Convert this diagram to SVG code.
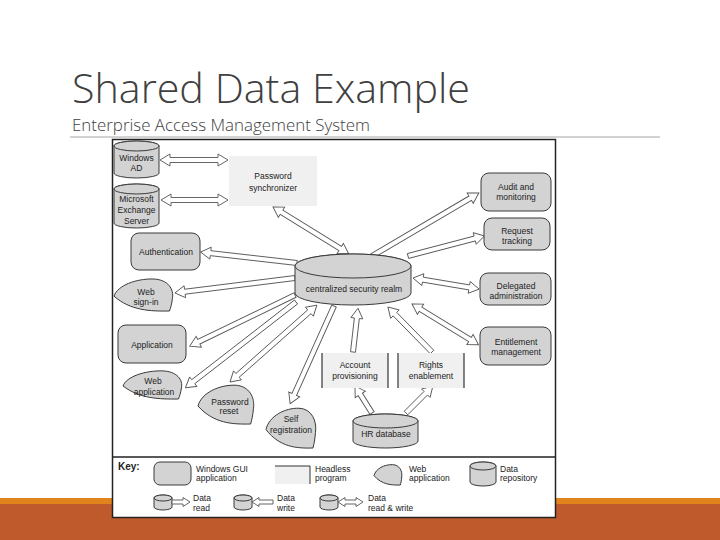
<svg xmlns="http://www.w3.org/2000/svg" xmlns:xlink="http://www.w3.org/1999/xlink" width="720" height="540" viewBox="0 0 720 540">
<style>
.t{font-family:"Liberation Sans",Arial,sans-serif;font-size:8.5px;fill:#222;text-anchor:middle}
.k{font-family:"Liberation Sans",Arial,sans-serif;font-size:8.5px;fill:#222}
.n{fill:#D3D3D3;stroke:#3a3a3a;stroke-width:1}
.a{fill:#fff;stroke:#555;stroke-width:0.9;stroke-linejoin:miter}
.h{fill:#F0F0F0}
.hl{stroke:#333;stroke-width:1.2}
</style>
<defs>
<path id="web" d="M0,55 C6,22 38,2 66,3 C92,4 102,35 99,62 C98,78 96,90 94,100 C62,101 28,99 0,55 Z" fill="#D3D3D3" stroke="#3a3a3a" stroke-width="1" vector-effect="non-scaling-stroke"/>
</defs>
<rect width="720" height="540" fill="#fff"/>
<rect x="0" y="498" width="720" height="7" fill="#E2841C"/>
<rect x="0" y="504" width="720" height="36" fill="#BE5A2C"/>
<text x="72" y="103" font-family="'Open Sans',sans-serif" font-weight="300" font-size="40" fill="#404040" textLength="398" lengthAdjust="spacingAndGlyphs">Shared Data Example</text>
<text x="72" y="131" font-family="'Open Sans',sans-serif" font-weight="300" font-size="17" fill="#404040" textLength="298" lengthAdjust="spacingAndGlyphs">Enterprise Access Management System</text>
<line x1="70" y1="137" x2="660" y2="137" stroke="#A6A6A6" stroke-width="1"/>
<rect x="112.5" y="139.5" width="443" height="378" fill="#fff" stroke="#222" stroke-width="1.5"/>
<line x1="112" y1="457" x2="556" y2="457" stroke="#222" stroke-width="1.5"/>

<g id="connectors">
<polygon class="a" transform="translate(160,160)" points="0,0 10,-6 10,-2.5 58,-2.5 58,-6 68,0 58,6 58,2.5 10,2.5 10,6"/>
<polygon class="a" transform="translate(161,200)" points="0,0 10,-6 10,-2.5 57,-2.5 57,-6 67,0 57,6 57,2.5 10,2.5 10,6"/>
<polygon class="a" transform="translate(273,207) rotate(31.7)" points="0,0 10,-6 10,-2.5 79,-2.5 79,-6 89,0 79,6 79,2.5 10,2.5 10,6"/>
<polygon class="a" transform="translate(297,263) rotate(186.5)" points="0,-2.5 87,-2.5 87,-6 97,0 87,6 87,2.5 0,2.5"/>
<polygon class="a" transform="translate(295,278) rotate(172.9)" points="0,-2.5 111,-2.5 111,-6 121,0 111,6 111,2.5 0,2.5"/>
<polygon class="a" transform="translate(295,295) rotate(154.1)" points="0,-2.5 107,-2.5 107,-6 117,0 107,6 107,2.5 0,2.5"/>
<polygon class="a" transform="translate(296,302) rotate(142.2)" points="0,-2.5 130,-2.5 130,-6 140,0 130,6 130,2.5 0,2.5"/>
<polygon class="a" transform="translate(230,382) rotate(-41.5)" points="0,0 10,-6 10,-2.5 106,-2.5 106,-6 116,0 106,6 106,2.5 10,2.5 10,6"/>
<polygon class="a" transform="translate(334,306) rotate(114.2)" points="0,-2.5 97,-2.5 97,-6 107,0 97,6 97,2.5 0,2.5"/>
<polygon class="a" transform="translate(353,352) rotate(-83.5)" points="0,-2.5 34,-2.5 34,-6 44,0 34,6 34,2.5 0,2.5"/>
<polygon class="a" transform="translate(432,352) rotate(-134.4)" points="0,-2.5 53,-2.5 53,-6 63,0 53,6 53,2.5 0,2.5"/>
<polygon class="a" transform="translate(412,304) rotate(31.5)" points="0,0 10,-6 10,-2.5 68,-2.5 68,-6 78,0 68,6 68,2.5 10,2.5 10,6"/>
<polygon class="a" transform="translate(413,278) rotate(9.5)" points="0,0 10,-6 10,-2.5 57,-2.5 57,-6 67,0 57,6 57,2.5 10,2.5 10,6"/>
<polygon class="a" transform="translate(408,256) rotate(-14.7)" points="0,-2.5 69,-2.5 69,-6 79,0 69,6 69,2.5 0,2.5"/>
<polygon class="a" transform="translate(372,256) rotate(-30.5)" points="0,-2.5 114,-2.5 114,-6 124,0 114,6 114,2.5 0,2.5"/>
<polygon class="a" transform="translate(372,413) rotate(-122.2)" points="0,-2.5 22,-2.5 22,-6 32,0 22,6 22,2.5 0,2.5"/>
<polygon class="a" transform="translate(406,413) rotate(-45)" points="0,-2.5 28,-2.5 28,-6 38,0 28,6 28,2.5 0,2.5"/>
</g>

<g id="windows-ad">
<path class="n" d="M114,146 A22.5,5 0 0 1 159,146 V173 A22.5,5 0 0 1 114,173 Z"/>
<ellipse class="n" cx="136.5" cy="146" rx="22.5" ry="5"/>
<text class="t" x="136.5" y="161">Windows</text>
<text class="t" x="136.5" y="171">AD</text>
</g>
<g id="exchange">
<path class="n" d="M114,189 A22.5,5 0 0 1 159,189 V223 A22.5,5 0 0 1 114,223 Z"/>
<ellipse class="n" cx="136.5" cy="189" rx="22.5" ry="5"/>
<text class="t" x="136.5" y="202">Microsoft</text>
<text class="t" x="136.5" y="213">Exchange</text>
<text class="t" x="136.5" y="224">Server</text>
</g>
<g id="password-synchronizer">
<rect class="h" x="229" y="156" width="88" height="50"/>
<text class="t" x="273" y="179" font-size="10">Password</text>
<text class="t" x="273" y="191" font-size="10">synchronizer</text>
</g>
<g id="authentication">
<rect class="n" x="131" y="233" width="69" height="37" rx="8"/>
<text class="t" x="166" y="255">Authentication</text>
</g>
<g id="realm">
<path class="n" d="M295,266 A58,12 0 0 1 411,266 V293 A58,12 0 0 1 295,293 Z"/>
<ellipse class="n" cx="353" cy="266" rx="58" ry="12"/>
<text class="t" x="354" y="292">centralized security realm</text>
</g>
<g id="audit">
<rect class="n" x="481" y="173" width="70" height="38" rx="8"/>
<text class="t" x="516" y="190">Audit and</text>
<text class="t" x="516" y="200">monitoring</text>
</g>
<g id="request-tracking">
<rect class="n" x="484" y="218" width="66" height="32" rx="8"/>
<text class="t" x="517" y="234">Request</text>
<text class="t" x="517" y="244">tracking</text>
</g>
<g id="delegated">
<rect class="n" x="480" y="273" width="71" height="32" rx="8"/>
<text class="t" x="516" y="289">Delegated</text>
<text class="t" x="516" y="299">administration</text>
</g>
<g id="entitlement">
<rect class="n" x="480" y="327" width="71" height="38" rx="8"/>
<text class="t" x="516" y="345">Entitlement</text>
<text class="t" x="516" y="355">management</text>
</g>
<g id="web-sign-in">
<use xlink:href="#web" href="#web" transform="translate(114,278) scale(0.59,0.33)"/>
<text class="t" x="146" y="295">Web</text>
<text class="t" x="146" y="305">sign-in</text>
</g>
<g id="application">
<rect class="n" x="118" y="325" width="68" height="38" rx="8" fill="#C4C4C4"/>
<text class="t" x="152" y="348">Application</text>
</g>
<g id="web-application">
<use xlink:href="#web" href="#web" transform="translate(123,370) scale(0.59,0.29)"/>
<text class="t" x="153" y="384">Web</text>
<text class="t" x="154" y="395">application</text>
</g>
<g id="password-reset">
<use xlink:href="#web" href="#web" transform="translate(198,384) scale(0.56,0.40)"/>
<text class="t" x="230" y="405">Password</text>
<text class="t" x="229" y="414">reset</text>
</g>
<g id="self-registration">
<use xlink:href="#web" href="#web" transform="translate(266,407) scale(0.50,0.41)"/>
<text class="t" x="291" y="422">Self</text>
<text class="t" x="291" y="433">registration</text>
</g>
<g id="account-provisioning">
<rect class="h" x="322" y="353" width="66" height="35"/>
<line class="hl" x1="322" y1="353" x2="322" y2="388"/>
<line class="hl" x1="388" y1="353" x2="388" y2="388"/>
<text class="t" x="355" y="368">Account</text>
<text class="t" x="355" y="379">provisioning</text>
</g>
<g id="rights-enablement">
<rect class="h" x="398" y="353" width="66" height="35"/>
<line class="hl" x1="398" y1="353" x2="398" y2="388"/>
<line class="hl" x1="464" y1="353" x2="464" y2="388"/>
<text class="t" x="431" y="368">Rights</text>
<text class="t" x="431" y="379">enablement</text>
</g>
<g id="hr-database">
<path class="n" d="M353,421 A32.5,7 0 0 1 418,421 V441 A32.5,7 0 0 1 353,441 Z"/>
<ellipse class="n" cx="385.5" cy="421" rx="32.5" ry="7"/>
<text class="t" x="386" y="437" font-size="9.5">HR database</text>
</g>

<g id="key">
<text x="118" y="470" font-family="'Liberation Sans',Arial,sans-serif" font-size="10" font-weight="bold" fill="#222">Key:</text>
<rect class="n" x="154" y="462" width="37" height="23" rx="6"/>
<text class="k" x="196" y="472">Windows GUI</text>
<text class="k" x="196" y="481">application</text>
<rect class="h" x="275" y="466" width="35" height="18"/>
<polyline points="275,466 310,466 310,484" fill="none" stroke="#333" stroke-width="1"/>
<text class="k" x="315" y="472">Headless</text>
<text class="k" x="315" y="481">program</text>
<use xlink:href="#web" href="#web" transform="translate(374,464) scale(0.28,0.21)"/>
<text class="k" x="409" y="472">Web</text>
<text class="k" x="409" y="481">application</text>
<path class="n" d="M470,466 A13,4 0 0 1 496,466 V482 A13,4 0 0 1 470,482 Z"/>
<ellipse class="n" cx="483" cy="466" rx="13" ry="4"/>
<text class="k" x="500" y="472">Data</text>
<text class="k" x="500" y="481">repository</text>
<path class="n" d="M154,498 A9,3 0 0 1 172,498 V507 A9,3 0 0 1 154,507 Z"/>
<ellipse class="n" cx="163" cy="498" rx="9" ry="3"/>
<polygon class="a" transform="translate(172,502)" points="0,-2 11,-2 11,-4.5 18,0 11,4.5 11,2 0,2"/>
<text class="k" x="193" y="501">Data</text>
<text class="k" x="193" y="511">read</text>
<path class="n" d="M234,498 A9,3 0 0 1 252,498 V507 A9,3 0 0 1 234,507 Z"/>
<ellipse class="n" cx="243" cy="498" rx="9" ry="3"/>
<polygon class="a" transform="translate(273,502) rotate(180)" points="0,-2 14,-2 14,-4.5 21,0 14,4.5 14,2 0,2"/>
<text class="k" x="277" y="501">Data</text>
<text class="k" x="277" y="511">write</text>
<path class="n" d="M320,498 A9,3 0 0 1 338,498 V507 A9,3 0 0 1 320,507 Z"/>
<ellipse class="n" cx="329" cy="498" rx="9" ry="3"/>
<polygon class="a" transform="translate(338,502)" points="0,0 7,-4.5 7,-2 18,-2 18,-4.5 25,0 18,4.5 18,2 7,2 7,4.5"/>
<text class="k" x="368" y="501">Data</text>
<text class="k" x="368" y="511">read &amp; write</text>
</g>
</svg>
